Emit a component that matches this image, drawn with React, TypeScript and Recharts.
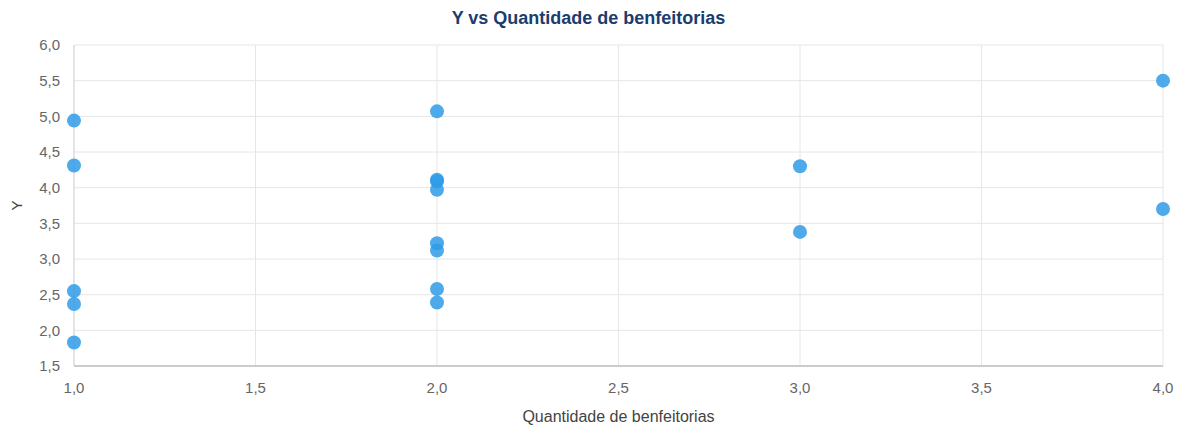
import React from "react";
import {
  ScatterChart,
  Scatter,
  XAxis,
  YAxis,
  CartesianGrid,
} from "recharts";

const benfeitorias = [1, 1, 1, 1, 1, 2, 2, 2, 2, 2, 2, 2, 2, 3, 3, 4, 4];
const yValues = [4.94, 4.31, 2.55, 2.37, 1.83, 5.07, 4.11, 4.09, 3.97, 3.22, 3.12, 2.58, 2.39, 4.3, 3.38, 5.5, 3.7];
const xTicks = [1, 1.5, 2, 2.5, 3, 3.5, 4];
const yTicks = [1.5, 2, 2.5, 3, 3.5, 4, 4.5, 5, 5.5, 6];

const data = benfeitorias.map((x, i) => ({ x, y: yValues[i] }));

const FONT = '"Liberation Sans", Arial, sans-serif';
const fmt = (v: number) => v.toFixed(1).replace(".", ",");

const Dot = (props: any) => {
  const { cx, cy } = props;
  return <circle cx={cx} cy={cy} r={7} fill="#2f9be8" fillOpacity={0.85} />;
};

const YLabel = ({ viewBox }: any) => {
  const cy = viewBox.y + viewBox.height / 2;
  return (
    <text
      x={22}
      y={cy}
      transform={`rotate(-90, 22, ${cy})`}
      textAnchor="middle"
      fill="#444"
      fontSize={15}
      fontFamily={FONT}
    >
      Y
    </text>
  );
};

const App = () => {
  return (
    <div style={{ position: "fixed", left: 0, top: 0, width: 1177, height: 425, background: "#fff", fontFamily: FONT }}>
      <div
        style={{
          position: "absolute",
          top: 8,
          left: 0,
          width: 1177,
          textAlign: "center",
          fontSize: 18,
          fontWeight: "bold",
          color: "#1b3d6e",
        }}
      >
        Y vs Quantidade de benfeitorias
      </div>
      <ScatterChart width={1177} height={425} margin={{ top: 45, right: 14, bottom: 0, left: 0 }}>
        <CartesianGrid stroke="#e6e6e6" />
        <XAxis
          type="number"
          dataKey="x"
          domain={[1, 4]}
          ticks={xTicks}
          tickFormatter={fmt}
          height={59}
          tickLine={false}
          tickSize={6}
          tickMargin={10}
          axisLine={{ stroke: "#ccc", strokeWidth: 2 }}
          tick={{ fill: "#666", fontSize: 15, fontFamily: FONT }}
          label={{
            value: "Quantidade de benfeitorias",
            position: "insideBottom",
            offset: 3,
            fill: "#444",
            fontSize: 16,
            fontFamily: FONT,
          }}
        />
        <YAxis
          type="number"
          dataKey="y"
          domain={[1.5, 6]}
          ticks={yTicks}
          tickFormatter={fmt}
          width={74}
          tickLine={false}
          tickSize={6}
          tickMargin={8}
          axisLine={{ stroke: "#d6d6d6" }}
          tick={{ fill: "#666", fontSize: 15, fontFamily: FONT }}
          label={<YLabel />}
        />
        <Scatter data={data} shape={<Dot />} isAnimationActive={false} />
      </ScatterChart>
    </div>
  );
};

export default App;
